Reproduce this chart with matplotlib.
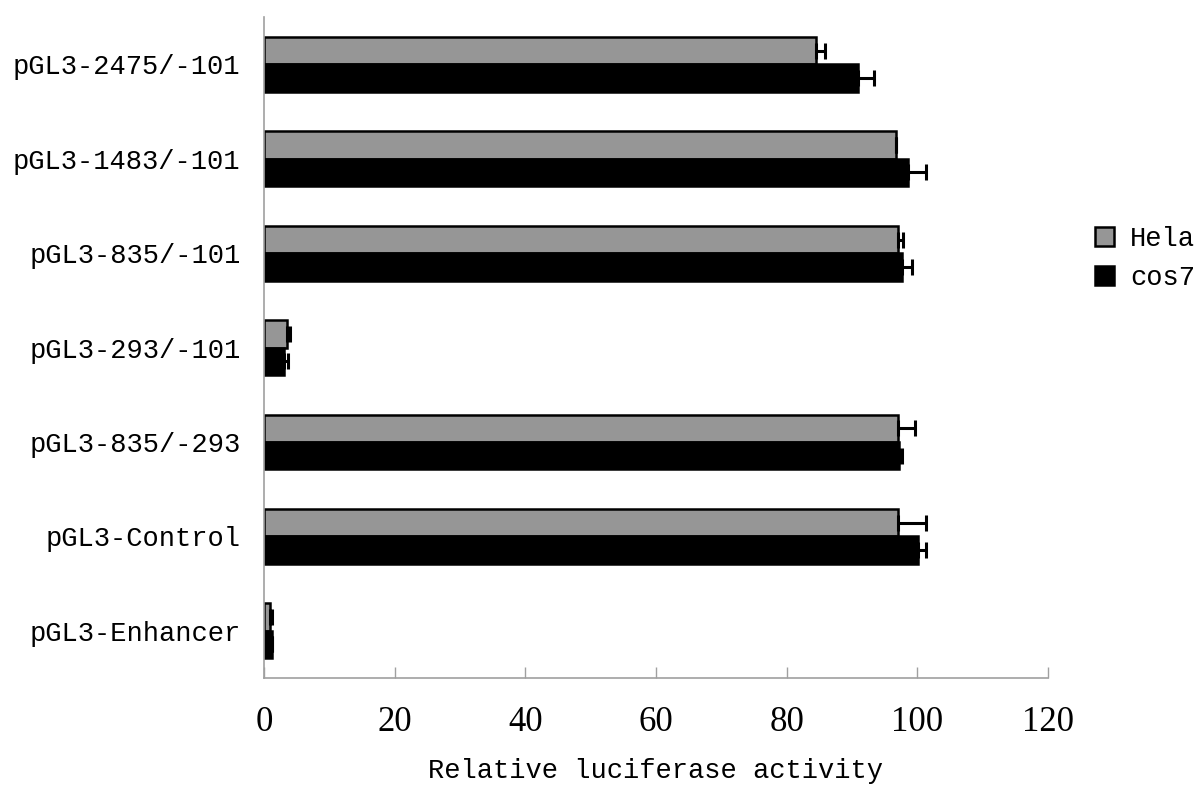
import numpy as np
import matplotlib.pyplot as plt
from matplotlib.patches import Patch

# Data
constructs = ['pGL3-2475/-101', 'pGL3-1483/-101', 'pGL3-835/-101', 'pGL3-293/-101',
              'pGL3-835/-293', 'pGL3-Control', 'pGL3-Enhancer']
hela = [84.5, 96.7, 97.0, 3.5, 97.0, 97.0, 0.9]
hela_err = [1.4, 0.0, 0.8, 0.5, 2.6, 4.3, 0.3]
cos7 = [90.9, 98.6, 97.7, 3.1, 97.2, 100.1, 1.3]
cos7_err = [2.5, 2.7, 1.5, 0.6, 0.4, 1.2, 0.0]
xticks = [0, 20, 40, 60, 80, 100, 120]

mono = 'Liberation Mono'
serif = 'Liberation Serif'

fig = plt.figure(figsize=(12, 8), dpi=100)
ax = fig.add_axes([0.22, 0.1525, 0.6533, 0.826])

y = np.arange(len(constructs))
h = 0.29
ekw = dict(ecolor='black', elinewidth=2.2, capsize=6, capthick=2.2)

ax.barh(y - h / 2, hela, height=h, color='#969696', edgecolor='black', linewidth=1.8,
        xerr=[np.zeros(len(hela)), hela_err], error_kw=ekw, label='Hela')
ax.barh(y + h / 2, cos7, height=h, color='black', edgecolor='black', linewidth=1.8,
        xerr=[np.zeros(len(cos7)), cos7_err], error_kw=ekw, label='cos7')

ax.set_xlim(0, 120)
ax.set_ylim(6.5, -0.5)
ax.set_xticks(xticks)
ax.set_xticklabels([str(t) for t in xticks], fontfamily=serif, fontsize=25)
ax.set_yticks(y)
ax.set_yticklabels(constructs, fontfamily=mono, fontsize=19.5)
ax.tick_params(axis='x', direction='in', length=8, width=1, color='#a0a0a0', pad=20)
ax.tick_params(axis='y', length=0, pad=17)

for s in ['top', 'right']:
    ax.spines[s].set_visible(False)
for s in ['left', 'bottom']:
    ax.spines[s].set_color('#a0a0a0')
    ax.spines[s].set_linewidth(1.2)

ax.set_xlabel('Relative luciferase activity', fontfamily=mono, fontsize=19.5, labelpad=14)

handles = [Patch(facecolor='#969696', edgecolor='black', linewidth=1.8, label='Hela'),
           Patch(facecolor='black', edgecolor='black', linewidth=1.8, label='cos7')]
fig.legend(handles=handles, loc='center left', bbox_to_anchor=(0.892, 0.677),
           frameon=False, handlelength=0.7, handleheight=0.7, handletextpad=0.6,
           labelspacing=0.5, prop={'family': mono, 'size': 19.5})

fig.savefig('out.png', dpi=100)
